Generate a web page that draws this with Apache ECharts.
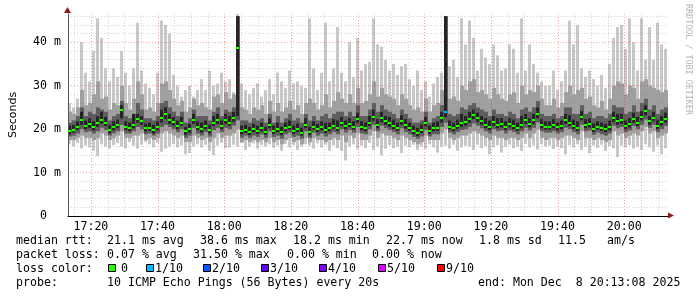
<!DOCTYPE html>
<html><head><meta charset="utf-8">
<script src="https://cdn.jsdelivr.net/npm/echarts@6/dist/echarts.min.js"></script>
<style>html,body{margin:0;padding:0;background:#fff}#c{width:697px;height:297px}</style>
</head><body><div id="c"></div>
<script>
// ---- data (ms), one sample per 72 s, from 17:13:08 to 20:13:08 ----
const sampleStart = [2025, 11, 8, 17, 13, 8];
const sampleStepSec = 72;
const median = [
19.5,19.8,20.5,22.0,20.8,21.2,20.5,21.3,22.2,21.5,
19.8,20.4,21.0,24.5,20.6,20.3,21.0,22.3,21.8,20.2,
20.3,19.8,20.4,22.5,23.5,22.0,21.6,20.8,21.5,19.5,
20.0,22.0,20.5,20.0,20.8,19.7,21.5,22.0,20.8,22.0,
21.5,22.5,38.6,19.5,19.8,19.3,20.0,19.6,20.2,19.4,
21.0,19.6,20.0,19.3,20.2,20.6,19.6,20.0,19.2,21.0,
19.3,20.6,20.0,20.4,19.8,20.2,20.8,20.3,21.4,20.8,
21.2,20.6,22.3,20.4,20.2,21.5,22.8,21.0,22.5,21.8,
21.3,20.8,20.3,21.8,20.9,20.3,19.5,19.0,19.8,21.4,
19.6,20.2,20.3,22.5,24.0,20.6,20.2,20.8,21.3,21.6,
22.3,23.2,22.5,21.8,21.0,20.5,21.6,21.0,21.2,20.5,
21.2,20.8,20.3,21.0,22.0,21.2,22.0,23.5,21.0,20.6,
20.6,21.0,20.4,20.7,22.0,21.5,20.8,20.3,22.8,21.0,
21.2,20.0,20.6,20.3,20.0,20.5,22.6,21.8,22.0,20.8,
21.2,22.3,21.5,22.8,24.2,21.8,22.6,20.8,21.6,22.3];
const pingMax = [
26,25,27,40,33,31,38,45.5,41,34,
31,34,32,38,33,30,34,44.5,33.5,30.5,
29.5,28,33,45,44,42,32.5,30,27.5,29,
30,27.5,29,31.5,29,33.5,30,30.5,33,31,
31.5,28.5,46.5,30.5,29,28,29.5,30.5,27.5,29,
31.5,28,33,31,29.5,33.5,30.5,31,30,29.5,
45.5,34,29,33,44.5,31,34,43.5,33,31,
40,32,41,33.5,35,35.5,45.5,39.5,39,36,
33.5,35,32.5,34.5,35,31.5,30,33.5,29,31,
27.5,30.5,32,33,46,34.5,36,32,45.5,39.5,
45,41,33.5,38.5,36.5,35,39.5,37,33.5,34,
39.5,38.5,33,45.5,33.5,39.5,35,33,31,30,
30,33.5,29,31,33.5,45,39.5,44,34,32,
33.5,31.5,30,32.5,29.5,35,41,43.5,44,38.5,
45.5,40,33.5,45.5,36,43.5,36,44.5,39.5,38.5];
const pingMin = [
16.5,16,16.8,15.5,16.2,15.8,15.0,13.8,16.5,16.0,
15.5,16.3,16.8,16.0,15.6,17.0,16.2,15.5,16.4,17.0,
16.5,15.8,16.8,14.8,15.5,16.0,16.6,15.8,16.2,14.2,
14.5,16.0,16.5,15.8,16.4,15.0,14.0,16.2,16.8,15.6,
15.8,16.4,16.0,16.8,15.2,16.0,16.7,15.5,16.3,16.0,
16.5,15.7,16.2,15.0,16.6,15.8,16.3,15.2,16.0,16.5,
16.2,15.5,16.7,15.8,16.4,15.0,16.2,15.6,15.0,12.8,
16.0,16.5,15.4,16.2,15.6,16.8,15.2,16.0,14.0,15.5,
16.3,15.6,16.0,14.5,16.2,15.8,16.4,15.2,16.0,15.5,
16.5,15.8,14.6,16.0,16.2,15.5,16.4,15.0,15.8,16.2,
16.0,15.2,16.4,15.6,16.1,14.2,15.8,16.3,14.6,15.9,
16.4,15.6,16.0,15.0,16.6,15.8,16.2,15.3,16.5,16.0,
16.2,15.4,16.0,15.6,14.2,16.3,15.8,16.5,15.2,16.0,
14.4,16.2,15.7,16.4,15.0,16.1,15.6,13.6,16.2,15.8,
16.3,15.5,16.0,15.2,16.5,15.8,14.8,16.2,14.2,15.6];
const smoke2Hi = [
24,23.5,25,29,25.5,26,28,31,27,27.5,
24.5,26,25.5,30,26,24.5,27,31,28,24.5,
25,24,26,30.5,31,29,27,25.5,26.5,24,
25,27,25.5,26,25,24.5,27.5,28,26,28.5,
27,28,46,25,24.5,23.5,25,24.5,25.5,23.5,
26.5,24,26,24,25,26.5,24.5,25.5,23.5,26,
27,26,24.5,25.5,28,25,26.5,28.5,27,26,
28,26,29.5,26,26.5,28,31,27.5,29.5,28,
27.5,27,25.5,28,27,25.5,24.5,25,24,27,
24,25.5,26,29,46,27,27.5,26.5,30,29,
31,31.5,28.5,29,28,27,29.5,28,27,26.5,
28,28.5,26,30,28,29,28.5,30,27,25.5,
25.5,27,25,26,28.5,30,28,29,29.5,27,
27.5,25.5,25,26.5,24.5,27,30,31,30.5,28,
30,29.5,27,31,31.5,30,29.5,29,28.5,29];
const smoke2Lo = [
17.5,17.5,18,18.5,18,18,17.5,18,19,18.5,
17.5,18,18.5,19.5,18,18,18.5,18.5,19,17.5,
18,17.5,18,19,19.5,19,18.5,18,18.5,17,
17,18.5,18,17.5,18,17,18,19,18,18.5,
18.5,19,20,17,17.5,17,17.5,17,17.5,17,
18,17,17.5,16.5,17.5,18,17,17.5,16.5,18,
17,18,17.5,17.5,17,17.5,18,17.5,18.5,17,
18.5,18,19,17.5,17.5,18.5,19.5,18,19,18.5,
18.5,18,17.5,18.5,18,17.5,17,16.5,17,18.5,
17.5,17.5,17.5,19,20,18,17.5,18,18.5,18.5,
19,19.5,19,18.5,18,17.5,18.5,18,18,17.5,
18,18,17.5,18,19,18,19,20,18,17.5,
18,18,17.5,18,18.5,18.5,18,17.5,19.5,18,
18,17.5,18,17.5,17,17.5,19.5,18.5,19,18,
18.5,19,18.5,19.5,20.5,19,19.5,18,18.5,19];
const smoke3Hi = [
21.5,22,23,25,23,24,23.5,25,24.5,24,
22,23,23.5,26.5,23,22.5,23.5,26,24.5,22.5,
22.5,22,23,26,26.5,25,24,23,24,21.5,
22.5,24.5,23,23,23,22,24,25,23,24.5,
24,25,46,22,22,21.5,22.5,22,22.5,21.5,
23.5,21.5,23,21.5,22.5,23.5,22,22.5,21.5,23.5,
22,23,22,23,23.5,22.5,23.5,24,24,23,
24,23,25.5,23,23,24.5,26,24,25.5,24.5,
24,23.5,22.5,24.5,23.5,22.5,21.5,21.5,22,24,
21.5,22.5,23,25.5,46,23.5,23,23.5,25,24.5,
25.5,26,25,24.5,24,23,24.5,23.5,23.5,23,
24,23.5,22.5,24.5,25,24,25,26.5,23.5,23,
23,23.5,22.5,23,25,25,23.5,23.5,25.5,23.5,
24,22.5,23,23,22.5,23.5,25.5,25,25,23.5,
24,25.5,24,26,27,24.5,25.5,23.5,24.5,25];
const smoke3Lo = [
18.3,18.5,19,20,19.3,19.5,19,19.5,20.3,19.8,
18.5,19,19.5,21,19,19,19.5,20.5,20,18.8,
19,18.5,19,20.5,21,20.5,20,19.3,20,18,
18.5,20.3,19,18.5,19.3,18.3,19.8,20.3,19.3,20.3,
20,20.8,22,18,18.5,18,18.5,18.2,18.8,18,
19.5,18.2,18.5,17.8,18.8,19.2,18.2,18.5,17.8,19.5,
18,19.2,18.5,19,18.3,18.8,19.3,18.8,20,19.2,
19.8,19.2,20.5,19,18.8,20,21,19.5,20.8,20.2,
19.8,19.3,18.8,20.2,19.3,18.8,18.2,17.8,18.3,19.8,
18.3,18.8,18.8,20.5,21.5,19.2,18.8,19.3,19.8,20,
20.5,21.3,20.8,20.2,19.5,19,20,19.5,19.7,19,
19.7,19.3,18.8,19.5,20.3,19.7,20.3,21.5,19.5,19.2,
19.2,19.5,19,19.3,20.3,20,19.3,18.8,21,19.5,
19.7,18.7,19.2,18.8,18.5,19,20.8,20.2,20.5,19.3,
19.7,20.7,20,21,22.2,20.3,21,19.3,20,20.7];
const coreHi = [
20.8,21,21.8,24,22,22.5,21.8,23,24,22.8,
21,21.8,22.2,25.5,21.8,21.5,23.5,23.5,23,21.3,
21.5,21,21.8,24.5,25,23.5,22.8,22,22.8,20.5,
21.2,23.5,21.8,21.5,22,21,23,23.5,22,23.5,
23,24,46,20.8,21,20.5,21.2,20.8,21.5,20.5,
22.5,20.8,21.5,20.5,21.5,22,20.8,21.3,20.3,22.5,
20.5,21.8,21.2,21.8,21.5,21.5,22.3,22,22.8,22,
22.5,21.8,23.8,21.8,21.5,23,24.5,22.3,24,23,
22.8,22.2,21.5,23.2,22.3,21.5,20.8,20.3,21,22.8,
20.8,21.5,21.8,24,46,22,21.5,22.2,23.5,23,
24,24.5,23.8,23,22.5,22,23,22.5,22.5,21.8,
22.5,22.2,21.5,23,23.5,22.5,23.5,25,22.3,21.8,
21.8,22.3,21.5,22,23.5,23.2,22.2,21.8,24.2,22.3,
22.5,21.3,21.8,21.5,21.2,22,24,23.5,23.5,22,
22.5,23.8,22.8,24.2,25.5,23,24,22.2,23,23.8];
const coreLo = [
18.8,19.2,19.8,21,20,20.3,19.7,20.5,21.3,20.7,
19,19.7,20.2,22.5,19.8,19.5,20.2,21.5,21,19.4,
19.6,19,19.7,21.5,22.3,21.2,20.8,20,20.8,18.7,
19.2,21.2,19.8,19.2,20,19,20.7,21.2,20,21.2,
20.8,21.7,23,18.8,19.1,18.6,19.3,18.9,19.5,18.7,
20.2,18.9,19.3,18.6,19.5,19.9,18.9,19.3,18.5,20.2,
18.6,19.9,19.3,19.7,19.1,19.5,20.1,19.6,20.7,20,
20.5,19.9,21.4,19.7,19.5,20.7,21.9,20.2,21.6,21,
20.5,20,19.6,21,20.1,19.6,18.8,18.4,19.1,20.6,
18.9,19.5,19.6,21.5,22.8,19.9,19.5,20,20.5,20.8,
21.5,22.3,21.6,21,20.2,19.8,20.8,20.2,20.4,19.8,
20.4,20,19.6,20.2,21.2,20.4,21.2,22.5,20.2,19.9,
19.9,20.2,19.7,20,21.2,20.7,20,19.6,22,20.2,
20.4,19.3,19.9,19.6,19.3,19.7,21.7,21,21.2,20,
20.4,21.5,20.7,22,23.2,21,21.8,20,20.8,21.5];
// packet loss (count of 10) at samples where it was not zero
const lossSampleIndex = [94];
const lossSampleCount = [1];

// axes / grid
const yMax = 46.5;
const gridTimes = ['17:15','17:20','17:25','17:30','17:35','17:40','17:45','17:50','17:55','18:00','18:05','18:10',
 '18:15','18:20','18:25','18:30','18:35','18:40','18:45','18:50','18:55','19:00','19:05','19:10',
 '19:15','19:20','19:25','19:30','19:35','19:40','19:45','19:50','19:55','20:00','20:05','20:10'];

// legend / statistics texts
const rttTitle = 'median rtt:';
const rttStats = ['21.1 ms avg','38.6 ms max','18.2 ms min','22.7 ms now','1.8 ms sd','11.5','am/s'];
const lossTitle = 'packet loss:';
const lossStats = ['0.07 % avg','31.50 % max','0.00 % min','0.00 % now'];
const lossColorTitle = 'loss color:';
const lossLabels = ['0','1/10','2/10','3/10','4/10','5/10','9/10'];
const lossColors = ['#26ff00','#00b8ff','#0059ff','#5e00ff','#7e00ff','#dd00ff','#ff0000'];
const lossColorByCount = {0:'#26ff00',1:'#00b8ff',2:'#0059ff',3:'#5e00ff',4:'#7e00ff',5:'#dd00ff',9:'#ff0000'};
const probeTitle = 'probe:';
const probeText = '10 ICMP Echo Pings (56 Bytes) every 20s';
const endText = 'end: Mon Dec  8 20:13:08 2025';
const watermark = 'RRDTOOL / TOBI OETIKER';

// ---- build ----
const T0 = new Date(sampleStart[0], sampleStart[1], sampleStart[2], sampleStart[3], sampleStart[4], sampleStart[5]).getTime();
const STEP = sampleStepSec * 1000;
const T1 = T0 + median.length * STEP;
const lossAt = {};
lossSampleIndex.forEach((k, i) => { lossAt[k] = lossSampleCount[i]; });
const smokeData = median.map((m, k) => [T0 + k * STEP, pingMin[k], smoke2Lo[k], smoke3Lo[k], coreLo[k], m, coreHi[k], smoke3Hi[k], smoke2Hi[k], pingMax[k], lossAt[k] || 0]);
function hm(s) { const p = s.split(':'); return new Date(sampleStart[0], sampleStart[1], sampleStart[2], +p[0], +p[1], 0).getTime(); }
const gridData = gridTimes.map(s => [hm(s), (+s.split(':')[1]) % 20 === 0 ? 1 : 0]);

const MONO = '"DejaVu Sans Mono", monospace';
const MAJ = 'rgba(225,0,0,0.36)';
const MIN = 'rgba(120,120,120,0.33)';
const bandColors = ['#c8c8c8', '#a0a0a0', '#5e5e5e', '#242424'];
// drawn offset / width (px) of each band inside its 4-px time slot
const bandInset = [[0, 3], [0, 4], [0, 4], [0, 3]];

const graphics = [];
function txt(s, x, y, extra) {
  graphics.push(Object.assign({ type: 'text', x: x, y: y, silent: true,
    style: { text: s, x: 0, y: 0, font: '11.6px ' + MONO, fill: '#000', textAlign: 'left', textVerticalAlign: 'middle' } }, extra || {}));
}
const row = [241, 255, 269, 283];
txt(rttTitle, 16, row[0]);
[107, 200, 293, 386, 479, 558, 607].forEach((x, i) => txt(rttStats[i], x, row[0]));
txt(lossTitle, 16, row[1]);
[107, 193, 287, 372].forEach((x, i) => txt(lossStats[i], x, row[1]));
txt(lossColorTitle, 16, row[2]);
const boxX = [108, 146, 203, 261, 319, 378, 437];
const labX = [121, 155, 212, 270, 328, 387, 446];
lossLabels.forEach((l, i) => {
  graphics.push({ type: 'rect', silent: true, shape: { x: boxX[i] + 0.5, y: row[2] - 4.5, width: 7, height: 7 },
    style: { fill: lossColors[i], stroke: '#000', lineWidth: 1 } });
  txt(l, labX[i], row[2]);
});
txt(probeTitle, 16, row[3]);
txt(probeText, 107, row[3]);
txt(endText, 478, row[3]);
graphics.push({ type: 'text', x: 688, y: 4, rotation: -Math.PI / 2, silent: true,
  style: { text: watermark, x: 0, y: 0, font: '8.4px ' + MONO, fill: '#b4b4b4', textAlign: 'left', textVerticalAlign: 'middle' } });
// axis arrows
graphics.push({ type: 'polygon', silent: true, z: 10, shape: { points: [[64, 13], [67.5, 7], [71, 13]] }, style: { fill: '#8e1b1b' } });
graphics.push({ type: 'polygon', silent: true, z: 10, shape: { points: [[668, 212.5], [674, 215.5], [668, 218.5]] }, style: { fill: '#8e1b1b' } });

const chart = echarts.init(document.getElementById('c'), null, { renderer: 'canvas' });
chart.setOption({
  animation: false,
  backgroundColor: '#fff',
  grid: { left: 67, right: 29, top: 14, bottom: 81, containLabel: false },
  xAxis: {
    type: 'time', min: T0, max: T1, minInterval: 25 * 60000, maxInterval: 25 * 60000, z: 3,
    axisLine: { show: true, lineStyle: { color: '#000', width: 1 } },
    axisTick: { show: false }, splitLine: { show: false },
    axisLabel: {
      showMinLabel: false, showMaxLabel: false, margin: 5, color: '#000', fontFamily: MONO, fontSize: 11.6,
      formatter: function (v) { const d = new Date(v); return String(d.getHours()).padStart(2, '0') + ':' + String(d.getMinutes()).padStart(2, '0'); }
    }
  },
  yAxis: {
    type: 'value', min: 0, max: yMax, interval: 2, z: 3,
    name: 'Seconds', nameLocation: 'middle', nameGap: 49, nameRotate: 90,
    nameTextStyle: { fontFamily: '"DejaVu Sans", sans-serif', fontSize: 11, color: '#000' },
    axisLine: { show: true, lineStyle: { color: '#555', width: 1 } },
    axisTick: { show: false },
    axisLabel: {
      margin: 7, color: '#000', fontFamily: MONO, fontSize: 11.6, showMaxLabel: false,
      formatter: function (v) { return v === 0 ? '0  ' : (v % 10 === 0 ? v + ' m' : ''); }
    },
    splitLine: { show: true, showMaxLine: false, lineStyle: { color: [MAJ, MIN, MIN, MIN, MIN], type: [1, 2], width: 1 } }
  },
  graphic: { elements: graphics },
  series: [
    {
      type: 'custom', z: 2, silent: true, clip: true,
      data: smokeData, encode: { x: 0, y: [1, 9] },
      renderItem: function (params, api) {
        const t = api.value(0);
        const x0 = Math.round(api.coord([t, 0])[0]);
        const x1 = Math.round(api.coord([t + STEP, 0])[0]);
        const slot = x1 - x0;
        const children = [];
        for (let b = 0; b < 4; b++) {
          const yl = api.coord([t, api.value(1 + b)])[1];
          const yh = api.coord([t, api.value(9 - b)])[1];
          const off = Math.min(bandInset[b][0], slot - 1);
          const w = Math.max(1, Math.min(bandInset[b][1], slot - off));
          children.push({ type: 'rect', shape: { x: x0 + off, y: yh, width: w, height: Math.max(1, yl - yh) }, style: { fill: bandColors[b] } });
        }
        return { type: 'group', children: children };
      }
    },
    {
      type: 'custom', z: 4, silent: true, clip: true,
      data: gridData, encode: { x: 0, y: 1 },
      renderItem: function (params, api) {
        const t = api.value(0);
        const x = Math.round(api.coord([t, 0])[0]) + 0.5;
        const yb = api.coord([t, 0])[1];
        const yt = api.coord([t, yMax])[1];
        return { type: 'line', shape: { x1: x, y1: yt, x2: x, y2: yb },
          style: { stroke: api.value(1) ? MAJ : MIN, lineWidth: 1, lineDash: [1, 2] } };
      }
    },
    {
      type: 'custom', z: 5, silent: true, clip: true,
      data: smokeData.map(d => [d[0], d[5], d[10]]), encode: { x: 0, y: 1 },
      renderItem: function (params, api) {
        const t = api.value(0);
        const p = api.coord([t, api.value(1)]);
        const x0 = Math.round(p[0]);
        return { type: 'rect', shape: { x: x0, y: Math.round(p[1]) - 1, width: 3, height: 2 },
          style: { fill: lossColorByCount[api.value(2)] || '#26ff00' } };
      }
    }
  ]
});
</script></body></html>
